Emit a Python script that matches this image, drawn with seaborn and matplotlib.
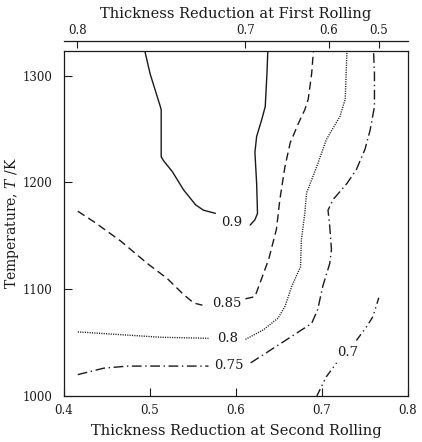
import matplotlib
matplotlib.use("Agg")
import matplotlib.pyplot as plt
import seaborn as sns

# ---- data ----
# each contour: left branch, right branch, label value and label spot
c90_left_x = [0.494, 0.500, 0.512, 0.513, 0.513, 0.516, 0.526, 0.539, 0.553, 0.562, 0.576]
c90_left_y = [1323, 1302, 1271, 1268, 1224, 1220, 1210, 1193, 1179, 1174, 1171]
c90_right_x = [0.6165, 0.622, 0.625, 0.624, 0.622, 0.624, 0.630, 0.634, 0.636, 0.637]
c90_right_y = [1160, 1165, 1171, 1199, 1228, 1243, 1259, 1271, 1302, 1323]

c85_left_x = [0.416, 0.435, 0.466, 0.497, 0.520, 0.539, 0.551, 0.561]
c85_left_y = [1173, 1163, 1145, 1124, 1110, 1095, 1087, 1085]
c85_right_x = [0.611, 0.622, 0.628, 0.638, 0.647, 0.651, 0.657, 0.663, 0.673, 0.680, 0.684, 0.688, 0.690]
c85_right_y = [1091, 1093, 1106, 1128, 1156, 1184, 1215, 1237, 1256, 1268, 1278, 1302, 1323]

c80_left_x = [0.416, 0.474, 0.512, 0.568]
c80_left_y = [1060, 1057, 1055, 1054]
c80_right_x = [0.611, 0.632, 0.649, 0.657, 0.665, 0.675, 0.676, 0.680, 0.682, 0.694, 0.705, 0.721, 0.727, 0.729]
c80_right_y = [1053, 1062, 1073, 1084, 1103, 1121, 1146, 1171, 1190, 1215, 1240, 1262, 1278, 1323]

c75_left_x = [0.416, 0.446, 0.474, 0.512, 0.568]
c75_left_y = [1020, 1026, 1028, 1028, 1028]
c75_right_x = [0.617, 0.644, 0.667, 0.688, 0.695, 0.701, 0.709, 0.711, 0.709, 0.707,
               0.713, 0.729, 0.740, 0.750, 0.756, 0.761, 0.761, 0.760]
c75_right_y = [1031, 1045, 1057, 1068, 1081, 1103, 1124, 1137, 1159, 1174,
               1184, 1199, 1212, 1231, 1249, 1271, 1302, 1322]

c70_left_x = [0.694, 0.705, 0.717]
c70_left_y = [1000, 1018, 1031]
c70_right_x = [0.740, 0.752, 0.759, 0.763, 0.766]
c70_right_y = [1052, 1065, 1074, 1084, 1092]

levels = ["0.9", "0.85", "0.8", "0.75", "0.7"]
label_x = [0.595, 0.589, 0.590, 0.592, 0.730]
label_y = [1162, 1087, 1054, 1029, 1041]

bottom_ticks = [0.4, 0.5, 0.6, 0.7, 0.8]
left_ticks = [1000, 1100, 1200, 1300]
top_tick_pos = [0.4155, 0.611, 0.708, 0.766]
top_tick_labels = ["0.8", "0.7", "0.6", "0.5"]

sns.set_theme(style="ticks")
plt.rcParams["font.family"] = ["DejaVu Serif"]
plt.rcParams["mathtext.fontset"] = "dejavuserif"
plt.rcParams["lines.scale_dashes"] = False

ink = "#1a1a1a"
styles = [
    "-",
    (0, (5.8, 3.2)),
    (0, (0.8, 0.9)),
    (0, (7.0, 2.6, 1.0, 2.6)),
    (0, (5.5, 2.6, 1.0, 2.6, 1.0, 2.6)),
]
widths = [1.0, 1.0, 1.0, 1.0, 1.0]

fig = plt.figure(figsize=(4.22, 4.42), dpi=100)
ax = fig.add_axes([0.1517, 0.1041, 0.8151, 0.7805])

branches = [
    (c90_left_x, c90_left_y, c90_right_x, c90_right_y),
    (c85_left_x, c85_left_y, c85_right_x, c85_right_y),
    (c80_left_x, c80_left_y, c80_right_x, c80_right_y),
    (c75_left_x, c75_left_y, c75_right_x, c75_right_y),
    (c70_left_x, c70_left_y, c70_right_x, c70_right_y),
]
for i, (lx, ly, rx, ry) in enumerate(branches):
    for xs, ys in ((lx, ly), (rx, ry)):
        sns.lineplot(x=xs, y=ys, sort=False, estimator=None, ax=ax, color=ink,
                     linestyle=styles[i], linewidth=widths[i])
    ax.text(label_x[i], label_y[i], levels[i], ha="center", va="center",
            fontsize=9.5, color=ink)

ax.set_xlim(0.4, 0.8)
ax.set_ylim(1000, 1323)
ax.set_xticks(bottom_ticks)
ax.set_yticks(left_ticks)
ax.tick_params(direction="in", length=5.5, width=0.8, labelsize=8.5, colors=ink)
ax.tick_params(axis="x", pad=6)
ax.tick_params(axis="y", pad=8.5)
for s in ax.spines.values():
    s.set_linewidth(0.9)
    s.set_color(ink)
ax.set_xlabel("Thickness Reduction at Second Rolling", fontsize=10.5, labelpad=5, color=ink)
ax.set_ylabel("Temperature, $T$ /K", fontsize=10, labelpad=1, color=ink)

sec = ax.secondary_xaxis(1.029)
sec.set_xticks(top_tick_pos, labels=top_tick_labels)
sec.tick_params(direction="in", length=5, width=0.8, labelsize=8.5, pad=3, colors=ink)
sec.spines["top"].set_linewidth(0.9)
sec.spines["top"].set_color(ink)
sec.set_xlabel("Thickness Reduction at First Rolling", fontsize=10.5, labelpad=4, color=ink)

fig.savefig("out.png", dpi=100)
